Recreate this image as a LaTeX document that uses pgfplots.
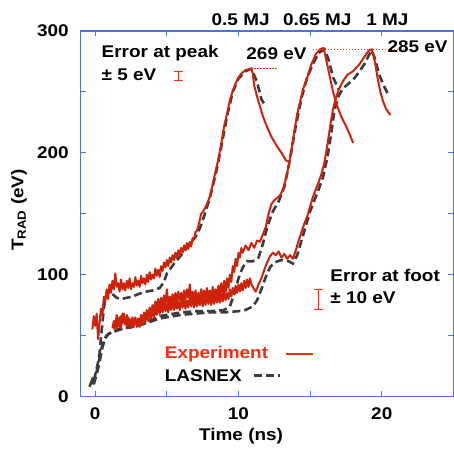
\documentclass[border=0pt]{standalone}
\usepackage{fontspec}
\setmainfont{Liberation Sans}[FakeStretch=1.12]
\usepackage{pgfplots}
\pgfplotsset{compat=1.18}
\definecolor{axblue}{RGB}{80,110,235}
\definecolor{expred}{RGB}{205,35,10}
\definecolor{txtred}{RGB}{245,45,20}
\definecolor{lasgray}{RGB}{60,60,60}
\tikzset{lbl/.style={font=\bfseries\fontsize{17}{19}\selectfont, inner sep=0pt}}
\pgfplotstableread{
t T
-0.2 55
-0.1 66
0.0 58
0.1 68
0.2 47
0.3 60
0.4 72
0.5 66
0.6 82
0.7 78
0.8 88
0.9 80
1.0 92
1.1 85
1.2 95
1.3 88
1.4 101
1.5 90
1.6 93
1.7 86
1.8 96
1.9 88
2.0 93
2.1 87
2.2 95
2.3 89
2.4 97
2.5 88
2.6 93
2.7 90
2.8 98
2.9 91
3.0 95
3.1 90
3.2 99
3.3 93
3.4 97
3.5 92
3.6 100
3.7 94
3.8 102
3.9 96
4.0 100
4.1 97
4.2 105
4.3 99
4.4 104
4.5 98
4.6 107
4.7 103
4.8 110
4.9 106
5.0 112
5.1 107
5.2 114
5.3 110
5.4 116
5.5 112
5.6 118
5.7 114
5.8 120
5.9 116
6.0 122
6.1 118
6.2 124
6.3 120
6.4 126
6.5 121
6.6 127
6.7 123
6.8 130
6.9 129
7.0 135
7.1 136
7.2 140
7.4 150
7.6 153
7.8 158
8.0 164
8.2 174
8.4 185
8.6 195
8.8 208
9.0 222
9.2 232
9.4 243
9.6 251
9.8 257
10.0 262
10.2 265
10.5 268
10.9 269
11.0 265
11.1 255
11.3 246
11.5 238
11.7 230
12.0 221
12.3 213
12.6 207
13.0 200
13.3 194
13.6 192
}\expA
\pgfplotstableread{
t T
-0.4 8
-0.2 14
-0.1 12
0.0 18
0.2 28
0.3 35
0.4 48
0.5 60
0.6 72
0.7 80
0.85 86
1.0 86
1.2 84
1.5 81
1.8 80
2.2 81
2.6 82
3.0 84
3.5 86
4.0 87
4.5 89
4.8 94
5.0 101
5.5 109
6.0 116
6.5 124
7.0 131
7.3 138
7.6 148
8.0 163
8.4 182
8.8 205
9.2 230
9.6 250
10.0 261
10.5 267
10.9 269
11.3 258
11.6 244
11.8 240
}\lasA
\pgfplotstableread{
t T
1.2 56
1.3 62
1.4 58
1.5 67
1.6 60
1.7 65
1.8 56
1.9 68
2.0 62
2.1 59
2.2 67
2.3 58
2.4 64
2.5 57
2.6 65
2.7 59
2.8 63
2.9 57
3.0 64
3.1 60
3.2 67
3.3 61
3.4 69
3.5 63
3.6 71
3.7 65
3.8 73
3.9 67
4.0 75
4.1 69
4.2 78
4.3 72
4.4 80
4.5 73
4.6 81
4.7 75
4.8 83
4.9 76
5.0 88
5.1 75
5.2 82
5.3 76
5.4 84
5.5 77
5.6 85
5.7 78
5.8 86
5.9 79
6.0 85
6.1 78
6.2 87
6.3 80
6.4 88
6.5 81
6.6 92
6.7 80
6.8 86
6.9 79
7.0 87
7.1 78
7.2 85
7.3 79
7.4 88
7.5 81
7.6 87
7.7 79
7.8 89
7.9 81
8.0 87
8.1 80
8.2 90
8.3 82
8.4 88
8.5 81
8.6 91
8.7 83
8.8 93
8.9 84
9.0 95
9.1 86
9.2 97
9.3 89
9.4 100
9.5 94
9.6 107
9.7 102
9.8 113
9.9 107
10.0 118
10.1 114
10.2 122
10.3 118
10.5 124
10.7 120
10.9 126
11.1 122
11.3 128
11.5 127
11.7 133
11.9 139
12.1 150
12.3 158
12.5 161
12.7 163
12.9 165
13.1 170
13.3 178
13.5 189
13.7 203
13.9 218
14.1 232
14.3 242
14.5 252
14.8 262
15.1 273
15.4 281
15.7 285
15.9 286
16.0 283
16.2 272
16.4 261
16.6 250
16.9 238
17.2 229
17.5 222
17.8 214
18.0 208
}\expB
\pgfplotstableread{
t T
-0.2 10
0.0 16
0.2 25
0.4 38
0.6 46
0.8 50
1.0 52
1.5 54
2.0 56
2.5 57
3.0 59
3.5 61
4.0 63
4.5 66
5.0 67
6.0 69
7.0 70
8.0 70
9.0 71
9.4 74
9.7 84
10.0 97
10.3 106
10.6 111
11.0 111
11.4 114
11.7 125
12.0 139
12.4 152
12.8 160
13.2 172
13.6 195
14.0 222
14.4 245
14.8 262
15.2 273
15.6 282
16.0 285
16.3 276
16.6 262
17.0 252
}\lasB
\pgfplotstableread{
t T
1.3 55
1.4 61
1.5 55
1.6 64
1.7 57
1.8 66
1.9 60
2.0 68
2.1 61
2.2 58
2.3 65
2.4 59
2.5 56
2.6 63
2.7 58
2.8 65
2.9 59
3.0 63
3.1 57
3.2 64
3.3 59
3.4 66
3.5 61
3.6 68
3.7 62
3.8 70
3.9 64
4.0 71
4.1 65
4.2 73
4.3 67
4.4 74
4.5 68
4.6 75
4.7 69
4.8 77
4.9 70
5.0 76
5.1 69
5.2 77
5.3 71
5.4 78
5.5 71
5.6 79
5.7 72
5.8 78
5.9 71
6.0 79
6.1 73
6.2 80
6.3 72
6.4 79
6.5 73
6.6 81
6.7 74
6.8 80
6.9 73
7.0 81
7.1 74
7.2 82
7.3 75
7.4 81
7.5 74
7.6 82
7.7 75
7.8 83
7.9 76
8.0 82
8.1 75
8.2 84
8.3 76
8.4 83
8.5 77
8.6 85
8.7 77
8.8 84
8.9 78
9.0 86
9.1 79
9.2 85
9.3 80
9.4 88
9.5 82
9.6 89
9.7 84
9.8 91
9.9 85
10.0 92
10.1 86
10.2 93
10.3 87
10.4 95
10.5 89
10.6 96
10.7 90
10.8 97
10.9 92
11.0 90
11.2 86
11.4 92
11.6 97
11.8 104
12.0 110
12.2 115
12.4 118
12.6 116
12.8 119
13.0 114
13.2 117
13.4 113
13.6 116
13.8 113
14.0 120
14.2 128
14.4 135
14.6 142
14.8 148
15.0 156
15.2 164
15.4 170
15.6 176
15.8 183
16.0 192
16.2 206
16.4 222
16.6 236
16.8 245
17.0 252
17.3 259
17.6 264
18.0 267
18.4 272
18.8 279
19.1 284
19.3 285
19.5 276
19.7 262
19.9 250
20.1 242
20.3 236
20.6 231
}\expC
\pgfplotstableread{
t T
-0.1 10
0.1 18
0.3 28
0.5 40
0.7 48
0.9 51
1.2 53
1.6 55
2.0 56
2.5 57
3.0 58
3.5 60
4.0 62
4.5 64
5.0 65
6.0 67
7.0 68
8.0 69
9.0 69
10.0 70
10.5 71
11.0 74
11.3 79
11.6 88
11.9 98
12.2 106
12.5 110
13.0 112
13.5 111
13.8 109
14.1 116
14.4 128
14.7 140
15.0 152
15.3 161
15.6 170
15.9 180
16.2 196
16.5 218
16.7 235
17.0 247
17.3 253
17.7 257
18.0 260
18.4 266
18.8 273
19.1 280
19.3 284
19.5 278
19.8 265
20.1 256
20.4 249
}\lasC
\begin{document}
\begin{tikzpicture}
\begin{axis}[
  scale only axis, width=373bp, height=366bp,
  xmin=-1, xmax=25, ymin=0, ymax=300,
  clip=false,
  axis line style={axblue, line width=1.2bp},
  tick style={axblue, line width=1bp},
  major tick length=5bp,
  tick align=inside,
  xtick={0,5,10,15,20}, xticklabels={0,,10,,20},
  ytick={0,50,100,150,200,250,300}, yticklabels={0,,100,,200,,300},
  tick label style={font=\bfseries\fontsize{17}{19}\selectfont},
  xticklabel style={anchor=center, yshift=-17bp},
  yticklabel style={anchor=east, inner sep=0pt, xshift=-12bp},
  label style={font=\bfseries\fontsize{17}{19}\selectfont},
  xlabel={Time (ns)},
  xlabel style={at={(axis description cs:0.43,0)}, anchor=center, yshift=-40bp},
  ylabel={T\textsubscript{RAD} (eV)},
  ylabel style={at={(axis description cs:0,0.51)}, anchor=center, yshift=62bp},
]
% LASNEX
\addplot[lasgray, line width=2.6bp, dash pattern=on 8bp off 4bp] table {\lasA};
\addplot[lasgray, line width=2.6bp, dash pattern=on 8bp off 4bp] table {\lasB};
\addplot[lasgray, line width=2.6bp, dash pattern=on 8bp off 4bp] table {\lasC};
% Experiment
\addplot[expred, line width=2bp, line join=round] table {\expA};
\addplot[expred, line width=2bp, line join=round] table {\expB};
\addplot[expred, line width=2bp, line join=round] table {\expC};
% peak guide lines
\addplot[txtred, dash pattern=on 1.5bp off 1.5bp, line width=0.8bp] coordinates {(10.9,269) (12.7,269)};
\addplot[txtred, dash pattern=on 1.5bp off 1.5bp, line width=0.8bp] coordinates {(15.2,285) (21.7,285)};
% error bars
\addplot[txtred, mark=none, error bars/.cd, y dir=both, y explicit,
  error bar style={line width=1bp, txtred},
  error mark options={rotate=90, mark size=4.5bp, txtred, line width=1bp}]
  coordinates {(5.8,263) +- (0,4)};
\addplot[txtred, mark=none, error bars/.cd, y dir=both, y explicit,
  error bar style={line width=1bp, txtred},
  error mark options={rotate=90, mark size=4.5bp, txtred, line width=1bp}]
  coordinates {(15.6,79.5) +- (0,8.5)};
% legend samples
\addplot[txtred, line width=2.2bp] coordinates {(13.35,35) (15.2,35)};
\addplot[lasgray, line width=2.6bp, dash pattern=on 8bp off 4bp] coordinates {(11.05,17) (12.9,17)};
% texts
\node[lbl, anchor=west] at (axis cs:0.44,281.6) {Error at peak};
\node[lbl, anchor=west] at (axis cs:0.44,264) {± 5 eV};
\node[lbl, anchor=center] at (axis cs:12.65,281.5) {269 eV};
\node[lbl, anchor=center] at (axis cs:22.5,287) {285 eV};
\node[lbl, anchor=center] at (axis cs:10.15,309) {0.5 MJ};
\node[lbl, anchor=center] at (axis cs:15.5,309) {0.65 MJ};
\node[lbl, anchor=center] at (axis cs:20.4,309) {1 MJ};
\node[lbl, anchor=west] at (axis cs:16.4,99) {Error at foot};
\node[lbl, anchor=west] at (axis cs:16.4,81) {± 10 eV};
\node[lbl, anchor=west, text=txtred] at (axis cs:4.85,35) {Experiment};
\node[lbl, anchor=west] at (axis cs:4.85,17) {LASNEX};
\end{axis}
\pgfresetboundingbox
\path[use as bounding box] ([xshift=-81bp,yshift=-57bp]current axis.south west) rectangle ([xshift=0.6bp,yshift=31bp]current axis.north east);
\end{tikzpicture}
\end{document}
